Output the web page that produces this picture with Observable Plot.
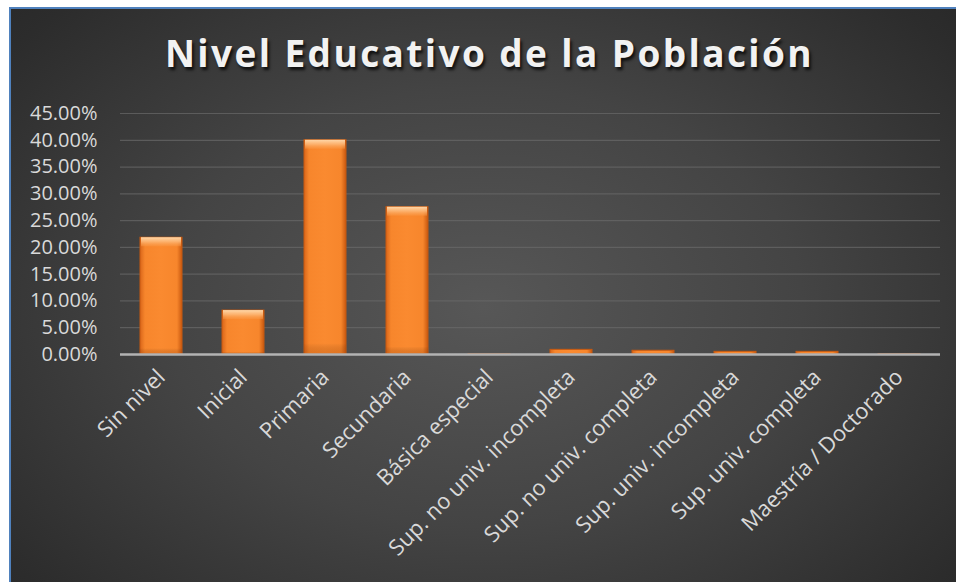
<!DOCTYPE html>
<html>
<head>
<meta charset="utf-8">
<script src="https://cdn.jsdelivr.net/npm/d3@7"></script>
<script src="https://cdn.jsdelivr.net/npm/@observablehq/plot@0.6"></script>
<style>
  html, body { margin: 0; padding: 0; background: #ffffff; width: 956px; height: 582px; overflow: hidden; }
  #frame {
    position: absolute; left: 9px; top: 7px; width: 945px; height: 573px;
    border-left: 2px solid #4f81bd; border-top: 2px solid #4f81bd;
    background: radial-gradient(ellipse 75% 85% at 50% 52%, #575757 0%, #444444 45%, #2c2c2c 85%, #262626 100%);
    overflow: hidden;
  }
  #title {
    height: 95px; box-sizing: border-box; padding-top: 18px; padding-left: 12px;
    text-align: center; font-family: "Open Sans", sans-serif; font-weight: 700;
    font-size: 37px; letter-spacing: 2.4px; color: #f2f2f2;
    text-shadow: 2px 3px 3px rgba(0,0,0,0.75);
  }
  #chart svg { display: block; }
</style>
</head>
<body>
<div id="frame">
  <div id="title">Nivel Educativo de la Población</div>
  <div id="chart"></div>
</div>
<script>
const categories = ["Sin nivel", "Inicial", "Primaria", "Secundaria", "Básica especial",
  "Sup. no univ. incompleta", "Sup. no univ. completa", "Sup. univ. incompleta",
  "Sup. univ. completa", "Maestría / Doctorado"];
const values = [0.218, 0.082, 0.400, 0.275, 0.0003, 0.0087, 0.0070, 0.0050, 0.0050, 0.0003];
const yTicks = [0, 0.05, 0.10, 0.15, 0.20, 0.25, 0.30, 0.35, 0.40, 0.45];

const data = categories.map((c, i) => ({category: c, value: values[i]}));
const tallBars = data.filter(d => d.value > 0.02);

const chart = Plot.plot({
  width: 945,
  height: 478,
  marginLeft: 109,
  marginRight: 16,
  marginTop: 9,
  marginBottom: 228,
  style: {background: "transparent", color: "#d9d9d9", overflow: "visible"},
  x: {domain: categories, paddingInner: 0.49, paddingOuter: 0.245, label: null},
  y: {domain: [0, 0.45], label: null},
  marks: [
    Plot.gridY(yTicks, {stroke: "#6a6a6a", strokeOpacity: 0.7, strokeWidth: 1.2}),
    Plot.axisY(yTicks, {
      tickFormat: d3.format(".2%"), tickSize: 0, tickPadding: 23,
      fontSize: 20, fontFamily: "Open Sans, sans-serif", fill: "#d9d9d9", label: null
    }),
    Plot.barY(data, {
      x: "category", y: "value",
      fill: "url(#barGrad)", stroke: "#c85a10", strokeWidth: 1
    }),
    Plot.barY(data, {
      x: "category", y: "value",
      fill: "url(#barShade)"
    }),
    // constant-height light bevel at the top of each tall bar
    Plot.barY(tallBars, {
      x: "category", y1: "value", y2: "value",
      insetBottom: -9, insetLeft: 1, insetRight: 1,
      fill: "url(#bevelTop)"
    }),
    Plot.ruleY([0], {stroke: "#b3b3b3", strokeWidth: 2.5}),
    Plot.axisX({
      tickSize: 0, tickRotate: -45, tickPadding: 19,
      fontSize: 22, fontFamily: "Open Sans, sans-serif", fill: "#d9d9d9", label: null
    })
  ]
});

const ns = "http://www.w3.org/2000/svg";
const defs = document.createElementNS(ns, "defs");
defs.innerHTML = `
  <linearGradient id="barGrad" x1="0" y1="0" x2="1" y2="0">
    <stop offset="0" stop-color="#d9661a"/>
    <stop offset="0.12" stop-color="#f7862c"/>
    <stop offset="0.5" stop-color="#fa8a30"/>
    <stop offset="0.88" stop-color="#f7862c"/>
    <stop offset="1" stop-color="#c8580f"/>
  </linearGradient>
  <linearGradient id="barShade" x1="0" y1="0" x2="0" y2="1">
    <stop offset="0" stop-color="#ffffff" stop-opacity="0"/>
    <stop offset="0.95" stop-color="#000000" stop-opacity="0"/>
    <stop offset="1" stop-color="#a04000" stop-opacity="0.25"/>
  </linearGradient>
  <linearGradient id="bevelTop" x1="0" y1="0" x2="0" y2="1">
    <stop offset="0" stop-color="#ffdcb0" stop-opacity="0.95"/>
    <stop offset="0.5" stop-color="#fdb877" stop-opacity="0.85"/>
    <stop offset="1" stop-color="#fa9a48" stop-opacity="0.4"/>
  </linearGradient>`;
chart.insertBefore(defs, chart.firstChild);
document.getElementById("chart").appendChild(chart);
</script>
</body>
</html>
